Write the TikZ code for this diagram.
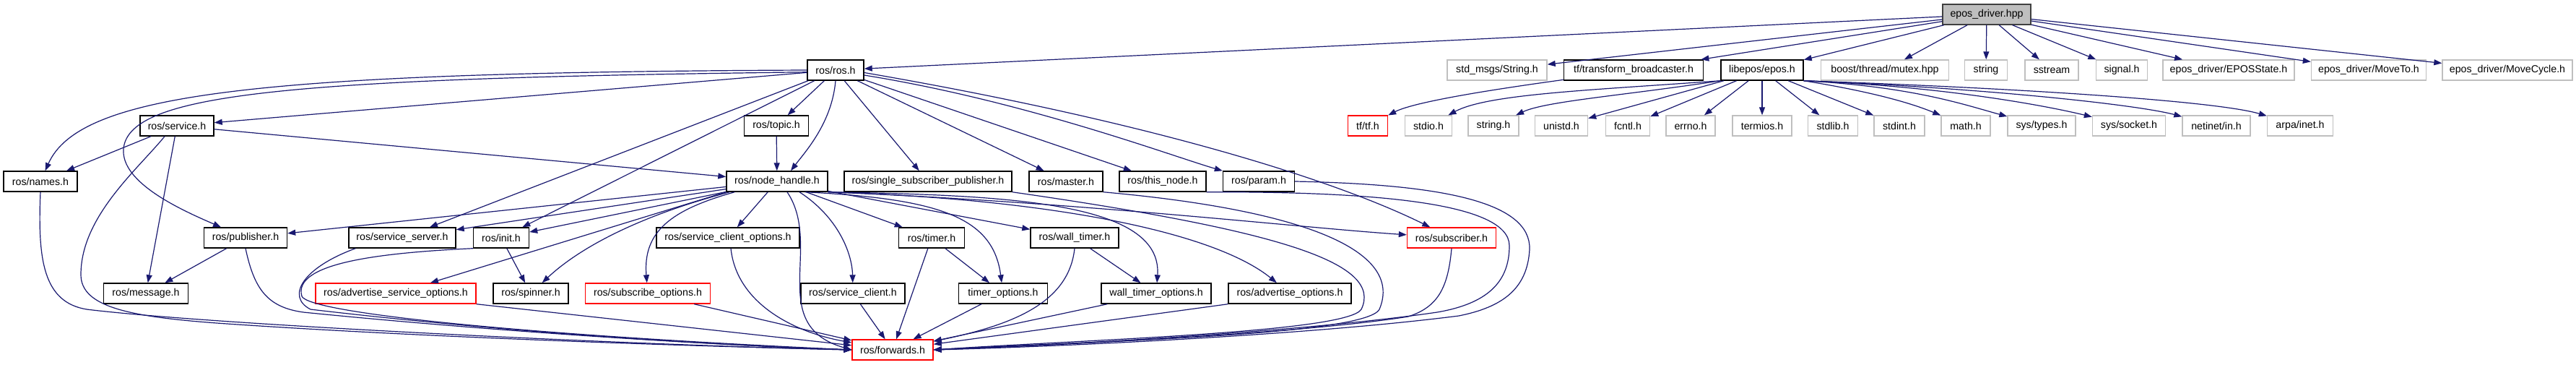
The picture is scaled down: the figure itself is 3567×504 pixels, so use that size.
\documentclass[tikz,border=0pt]{standalone}
\usepackage{fontspec}
\setmainfont{Liberation Sans}
\usetikzlibrary{arrows.meta}
\definecolor{edgec}{HTML}{191970}
\definecolor{sysgray}{HTML}{BFBFBF}
\definecolor{rootgray}{HTML}{BFBFBF}
\newcommand{\dxfont}{\fontsize{14.2pt}{16pt}\selectfont}
\begin{document}
\begin{tikzpicture}[x=1pt,y=-1pt,
  box/.style={draw=black, fill=white, line width=1.4pt, minimum height=28pt, inner sep=0pt, font=\dxfont, text=black},
  sysbox/.style={box, draw=sysgray},
  redbox/.style={box, draw=red},
  rootbox/.style={box, fill=rootgray, draw=black!75},
  edge/.style={draw=edgec, line width=1.2pt, -{Triangle[length=11pt,width=8pt]}}]
\path[fill=white] (0,0) rectangle (3567,504);
\useasboundingbox (0,0) rectangle (3567,504);
% rank 0
\node[rootbox, minimum width=122pt] (epos) at (2751,20) {epos\_driver.hpp};
% rank 1
\node[box, minimum width=78pt] (ros) at (1157,97) {ros/ros.h};
\node[sysbox, minimum width=138pt] (stdstr) at (2073,97) {std\_msgs/String.h};
\node[box, minimum width=193pt] (tfb) at (2262,97) {tf/transform\_broadcaster.h};
\node[box, minimum width=114pt] (libepos) at (2440,97) {libepos/epos.h};
\node[sysbox, minimum width=177pt] (mutex) at (2610,97) {boost/thread/mutex.hpp};
\node[sysbox, minimum width=59pt] (string) at (2750,97) {string};
\node[sysbox, minimum width=74pt] (sstream) at (2841,97) {sstream};
\node[sysbox, minimum width=71pt] (signal) at (2938,97) {signal.h};
\node[sysbox, minimum width=182pt] (eposstate) at (3086,97) {epos\_driver/EPOSState.h};
\node[sysbox, minimum width=159pt] (moveto) at (3280,97) {epos\_driver/MoveTo.h};
\node[sysbox, minimum width=180pt] (movecycle) at (3472,97) {epos\_driver/MoveCycle.h};
% rank 2
\node[box, minimum width=102pt] (service) at (245,174) {ros/service.h};
\node[box, minimum width=89pt] (topic) at (1075,174) {ros/topic.h};
\node[redbox, minimum width=55pt] (tf) at (1894,174) {tf/tf.h};
\node[sysbox, minimum width=65pt] (stdio) at (1978,174) {stdio.h};
\node[sysbox, minimum width=70pt] (stringh) at (2068,174) {string.h};
\node[sysbox, minimum width=73pt] (unistd) at (2162,174) {unistd.h};
\node[sysbox, minimum width=61pt] (fcntl) at (2254,174) {fcntl.h};
\node[sysbox, minimum width=68pt] (errno) at (2341,174) {errno.h};
\node[sysbox, minimum width=82pt] (termios) at (2440,174) {termios.h};
\node[sysbox, minimum width=69pt] (stdlib) at (2538,174) {stdlib.h};
\node[sysbox, minimum width=70pt] (stdint) at (2630,174) {stdint.h};
\node[sysbox, minimum width=68pt] (math) at (2722,174) {math.h};
\node[sysbox, minimum width=94pt] (systypes) at (2827,174) {sys/types.h};
\node[sysbox, minimum width=101pt] (syssocket) at (2948,174) {sys/socket.h};
\node[sysbox, minimum width=94pt] (netinet) at (3069,174) {netinet/in.h};
\node[sysbox, minimum width=91pt] (arpa) at (3185,174) {arpa/inet.h};
% rank 3
\node[box, minimum width=102pt] (names) at (56,251) {ros/names.h};
\node[box, minimum width=140pt] (nh) at (1076,251) {ros/node\_handle.h};
\node[box, minimum width=232pt] (ssp) at (1285,251) {ros/single\_subscriber\_publisher.h};
\node[box, minimum width=102pt] (master) at (1476,251) {ros/master.h};
\node[box, minimum width=120pt] (thisnode) at (1610,251) {ros/this\_node.h};
\node[box, minimum width=99pt] (param) at (1743,251) {ros/param.h};
% rank 4
\node[box, minimum width=115pt] (publisher) at (340,329) {ros/publisher.h};
\node[box, minimum width=148pt] (sserver) at (557,329) {ros/service\_server.h};
\node[box, minimum width=77pt] (init) at (694,329) {ros/init.h};
\node[box, minimum width=198pt] (sco) at (1008,329) {ros/service\_client\_options.h};
\node[box, minimum width=91pt] (timer) at (1290,329) {ros/timer.h};
\node[box, minimum width=122pt] (walltimer) at (1488,329) {ros/wall\_timer.h};
\node[redbox, minimum width=123pt] (subscriber) at (2010,329) {ros/subscriber.h};
% rank 5
\node[box, minimum width=117pt] (message) at (202,406) {ros/message.h};
\node[redbox, minimum width=222pt] (aso) at (548,406) {ros/advertise\_service\_options.h};
\node[box, minimum width=104pt] (spinner) at (735,406) {ros/spinner.h};
\node[redbox, minimum width=173pt] (subopt) at (897,406) {ros/subscribe\_options.h};
\node[box, minimum width=144pt] (sclient) at (1181,406) {ros/service\_client.h};
\node[box, minimum width=123pt] (timeropt) at (1389,406) {timer\_options.h};
\node[box, minimum width=152pt] (wtopt) at (1601,406) {wall\_timer\_options.h};
\node[box, minimum width=170pt] (advopt) at (1786,406) {ros/advertise\_options.h};
% rank 6
\node[redbox, minimum width=112pt] (forwards) at (1236,484) {ros/forwards.h};

% ---- edges from epos_driver.hpp
\foreach \t in {ros,stdstr,tfb,libepos,mutex,string,sstream,signal,eposstate,moveto,movecycle}
  \draw[edge] (epos) -- (\t);
% tf
\draw[edge] (tfb) .. controls (2080,122) and (1960,140) .. (tf);
% libepos
\draw[edge] (libepos.south west) .. controls (2200,125) and (2060,130) .. (stdio);
\draw[edge] (libepos.south west) .. controls (2250,132) and (2140,140) .. (stringh);
\foreach \t in {unistd,fcntl,errno,termios,stdlib,stdint}
  \draw[edge] (libepos) -- (\t);
\draw[edge] (libepos.south east) .. controls (2580,125) and (2640,140) .. (math);
\draw[edge] (libepos.south east) .. controls (2650,120) and (2720,145) .. (systypes);
\draw[edge] (libepos.south east) .. controls (2700,120) and (2840,148) .. (syssocket);
\draw[edge] (libepos.south east) .. controls (2750,122) and (2960,145) .. (netinet);
\draw[edge] (libepos.south east) .. controls (2800,122) and (3070,140) .. (arpa);
% ros.h
\draw[edge] (ros.west) .. controls (350,100) and (110,130) .. (names);
\draw[edge] (ros.184) .. controls (400,108) and (190,130) .. (172,200) .. controls (160,250) and (250,290) .. (publisher);
\draw[edge] (ros) -- (service);
\draw[edge] (ros) -- (sserver);
\draw[edge] (ros) -- (init);
\draw[edge] (ros) -- (topic);
\draw[edge] (ros.south) .. controls (1152,170) and (1115,210) .. ([xshift=19pt]nh.north);
\draw[edge] (ros) -- (ssp);
\draw[edge] (ros) -- (master);
\draw[edge] (ros) -- (thisnode);
\draw[edge] (ros.-10) .. controls (1420,140) and (1620,215) .. (param);
\draw[edge] (ros.-5) .. controls (1600,170) and (1850,250) .. (subscriber);
% topic, service
\draw[edge] (topic) -- (nh);
\draw[edge] (service) -- (names);
\draw[edge] (service) -- (nh);
\draw[edge] (service) -- (message);
\draw[edge] ([xshift=-17pt]service.south) .. controls (190,235) and (112,300) .. (112,380) .. controls (112,425) and (180,438) .. (300,447) .. controls (600,468) and (1000,480) .. (forwards.west);
\draw[edge] (names.south) .. controls (52,360) and (60,418) .. (120,428) .. controls (300,450) and (900,478) .. (forwards.west);
% publisher etc.
\draw[edge] (publisher) -- (message);
\draw[edge] (publisher.south) .. controls (352,400) and (370,425) .. (420,432) .. controls (700,460) and (1000,478) .. (forwards.west);
\draw[edge] ([xshift=10pt]sserver.south west) .. controls (420,370) and (395,410) .. (430,428) .. controls (700,460) and (1000,478) .. (forwards.west);
\draw[edge] (init.south west) .. controls (520,350) and (405,365) .. (418,410) .. controls (428,432) and (700,462) .. (forwards.west);
\draw[edge] (init) -- (spinner);
\draw[edge] (aso.south east) -- (forwards);
\draw[edge] ([xshift=-23pt]subopt.south east) -- (forwards);
% node_handle
\draw[edge] (nh) -- (publisher);
\draw[edge] (nh) -- (sserver);
\draw[edge] (nh) -- (init);
\draw[edge] (nh.south west) -- (aso);
\draw[edge] ([xshift=5pt]nh.south west) .. controls (880,300) and (800,345) .. (spinner);
\draw[edge] ([xshift=12pt]nh.south west) .. controls (930,290) and (890,320) .. (subopt);
\draw[edge] (nh) -- (sco);
\draw[edge] ([xshift=14pt]nh.south) .. controls (1140,340) and (1060,450) .. (forwards.west);
\draw[edge] ([xshift=31pt]nh.south) .. controls (1160,300) and (1180,350) .. (sclient);
\draw[edge] (nh) -- (timer);
\draw[edge] ([xshift=39pt]nh.south) .. controls (1300,275) and (1375,300) .. (timeropt);
\draw[edge] (nh) -- (walltimer);
\draw[edge] (nh.south east) .. controls (1400,270) and (1610,280) .. (wtopt);
\draw[edge] (nh.south east) .. controls (1450,275) and (1680,320) .. (advopt);
\draw[edge] (nh.south east) .. controls (1500,280) and (1800,315) .. (subscriber);
% to forwards
\draw[edge] ([xshift=4pt]sco.south) .. controls (1020,420) and (1100,460) .. (forwards);
\draw[edge] (sclient) -- (forwards);
\draw[edge] (timer) -- (timeropt);
\draw[edge] (timer) -- (forwards);
\draw[edge] ([xshift=-30pt]timeropt.south) -- (forwards);
\draw[edge] (walltimer) -- (wtopt);
\draw[edge] (walltimer.south) .. controls (1480,420) and (1400,450) .. (forwards);
\draw[edge] ([xshift=9pt]wtopt.south west) -- (forwards);
\draw[edge] (advopt.south west) -- (forwards);
% right loops
\draw[edge] (ssp.south east) .. controls (1780,320) and (1915,365) .. (1885,428) .. controls (1865,460) and (1500,470) .. (forwards.east);
\draw[edge] (master.south east) .. controls (1800,290) and (1945,345) .. (1910,428) .. controls (1890,465) and (1500,472) .. (forwards.east);
\draw[edge] (subscriber.south) .. controls (2005,400) and (1990,425) .. (1950,438) .. controls (1800,462) and (1450,478) .. (forwards.east);
\draw[edge] (thisnode.south east) .. controls (1900,265) and (2090,280) .. (2090,340) .. controls (2090,390) and (2060,420) .. (1990,432) .. controls (1800,460) and (1450,478) .. (forwards.east);
\draw[edge] (param.east) .. controls (2000,255) and (2120,280) .. (2118,345) .. controls (2115,400) and (2080,425) .. (2020,437) .. controls (1800,465) and (1450,480) .. (forwards.east);
\end{tikzpicture}
\end{document}
